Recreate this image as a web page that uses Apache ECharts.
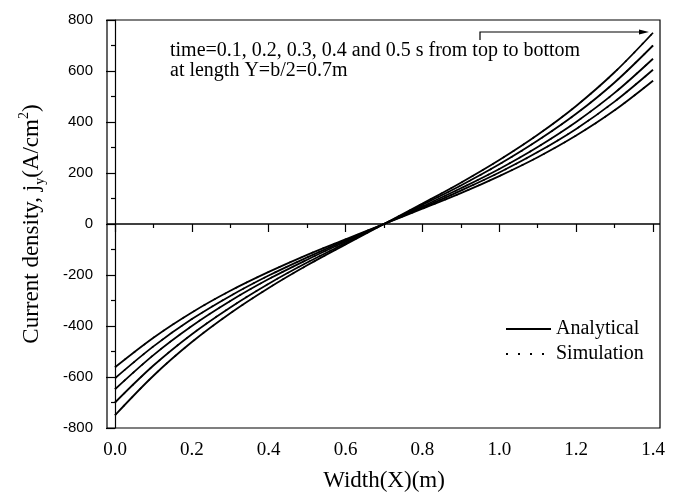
<!DOCTYPE html>
<html>
<head>
<meta charset="utf-8">
<script src="https://cdn.jsdelivr.net/npm/echarts@6/dist/echarts.min.js"></script>
<style>
  html, body { margin: 0; padding: 0; background: #fff; }
  #chart { width: 677px; height: 497px; }
</style>
</head>
<body>
<div id="chart"></div>
<script>
// Width positions along the plate (m)
const widthX = [0, 0.1, 0.2, 0.3, 0.4, 0.5, 0.6, 0.7, 0.8, 0.9, 1.0, 1.1, 1.2, 1.3, 1.4];

// Current density j_y (A/cm^2) at Y = b/2 = 0.7 m, one array per time
const jT01 = [-750, -595, -463, -350, -251, -162, -80, 0, 80, 162, 251, 350, 463, 595, 750];
const jT02 = [-700, -555, -432, -327, -234, -151, -75, 0, 75, 151, 234, 327, 432, 555, 700];
const jT03 = [-648, -514, -400, -302, -216, -140, -69, 0, 69, 140, 216, 302, 400, 514, 648];
const jT04 = [-605, -480, -373, -282, -202, -131, -64, 0, 64, 131, 202, 282, 373, 480, 605];
const jT05 = [-562, -446, -347, -262, -188, -121, -60, 0, 60, 121, 188, 262, 347, 446, 562];

// Simulation results at the same times
const simT01 = jT01.slice();
const simT02 = jT02.slice();
const simT03 = jT03.slice();
const simT04 = jT04.slice();
const simT05 = jT05.slice();

const xTicks = [0, 0.2, 0.4, 0.6, 0.8, 1.0, 1.2, 1.4];
const yTicks = [-800, -600, -400, -200, 0, 200, 400, 600, 800];

const SERIF = 'Liberation Serif, Times New Roman, serif';
const SANS = 'Liberation Sans, Arial, sans-serif';

const analytical = [jT01, jT02, jT03, jT04, jT05];
const simulation = [simT01, simT02, simT03, simT04, simT05];

const pairs = (ys) => widthX.map((x, i) => [x, ys[i]]);

const series = [];
simulation.forEach((ys) => {
  series.push({
    name: 'Simulation',
    type: 'line',
    data: pairs(ys),
    symbol: 'none',
    smooth: 0.35,
    lineStyle: { color: '#000', width: 1.5, type: [2, 10] },
    itemStyle: { color: '#000' },
    z: 2,
    silent: true
  });
});
analytical.forEach((ys) => {
  series.push({
    name: 'Analytical',
    type: 'line',
    data: pairs(ys),
    symbol: 'none',
    smooth: 0.35,
    lineStyle: { color: '#000', width: 1.8 },
    itemStyle: { color: '#000' },
    z: 3,
    silent: true
  });
});

const chart = echarts.init(document.getElementById('chart'), null, { renderer: 'canvas' });

chart.setOption({
  animation: false,
  backgroundColor: '#fff',
  grid: { left: 115, right: 24, top: 20, bottom: 69, containLabel: false },
  xAxis: {
    type: 'value',
    min: 0,
    max: 1.4,
    interval: 0.2,
    name: 'Width(X)(m)',
    nameLocation: 'middle',
    nameGap: 41,
    nameTextStyle: { fontFamily: SERIF, fontSize: 23, color: '#000' },
    axisLine: { show: false },
    axisTick: { show: true, inside: false, length: 8, lineStyle: { color: '#000', width: 1.2 } },
    minorTick: { show: true, splitNumber: 2, length: 4, lineStyle: { color: '#000', width: 1.2 } },
    splitLine: { show: false },
    axisLabel: {
      margin: 13,
      fontFamily: SERIF,
      fontSize: 19,
      color: '#000',
      formatter: (v) => xTicks.some((t) => Math.abs(t - v) < 1e-9) ? v.toFixed(1) : ''
    }
  },
  yAxis: {
    type: 'value',
    min: -800,
    max: 800,
    interval: 200,
    offset: 8,
    name: '{n|Current density, j}{sub|y}{n|(A/cm}{sup|2}{n|)}',
    nameLocation: 'middle',
    nameGap: 60,
    nameTextStyle: {
      color: '#000',
      rich: {
        n: { fontFamily: SERIF, fontSize: 23, lineHeight: 30, color: '#000' },
        sub: { fontFamily: SERIF, fontSize: 14, lineHeight: 14, verticalAlign: 'bottom', color: '#000' },
        sup: { fontFamily: SERIF, fontSize: 14, lineHeight: 14, verticalAlign: 'top', color: '#000' }
      }
    },
    axisLine: { show: true, lineStyle: { color: '#000', width: 1.2 } },
    axisTick: { show: true, inside: false, length: 9, lineStyle: { color: '#000', width: 1.2 } },
    minorTick: { show: true, splitNumber: 2, length: 4, lineStyle: { color: '#000', width: 1.2 } },
    splitLine: { show: false },
    axisLabel: {
      margin: 14,
      fontFamily: SANS,
      fontSize: 15,
      color: '#000',
      formatter: (v) => yTicks.includes(v) ? String(v) : ''
    }
  },
  legend: {
    data: ['Analytical', 'Simulation'],
    orient: 'vertical',
    left: 505,
    top: 319,
    padding: 0,
    itemWidth: 45,
    itemHeight: 14,
    itemGap: 5,
    selectedMode: false,
    itemStyle: { opacity: 0 },
    textStyle: { fontFamily: SERIF, fontSize: 20, color: '#000', lineHeight: 20 }
  },
  graphic: [
    {
      type: 'rect',
      shape: { x: 107, y: 20, width: 553, height: 408 },
      style: { fill: 'none', stroke: '#000', lineWidth: 1.2 },
      z: 10, silent: true
    },
    {
      type: 'line',
      shape: { x1: 107, y1: 224, x2: 660, y2: 224 },
      style: { stroke: '#000', lineWidth: 1.5 },
      z: 10, silent: true
    },
    {
      type: 'text',
      left: 170,
      top: 41,
      style: {
        text: 'time=0.1, 0.2, 0.3, 0.4 and 0.5 s from top to bottom\nat length Y=b/2=0.7m',
        fontFamily: SERIF,
        fontSize: 20,
        lineHeight: 20,
        fill: '#000'
      },
      z: 10, silent: true
    },
    {
      type: 'polyline',
      shape: { points: [[480, 40], [480, 32], [642, 32]] },
      style: { stroke: '#000', lineWidth: 1.2, fill: 'none' },
      z: 10, silent: true
    },
    {
      type: 'polygon',
      shape: { points: [[649, 32], [639, 29.5], [639, 34.5]] },
      style: { fill: '#000' },
      z: 10, silent: true
    }
  ],
  series: series
});
</script>
</body>
</html>
